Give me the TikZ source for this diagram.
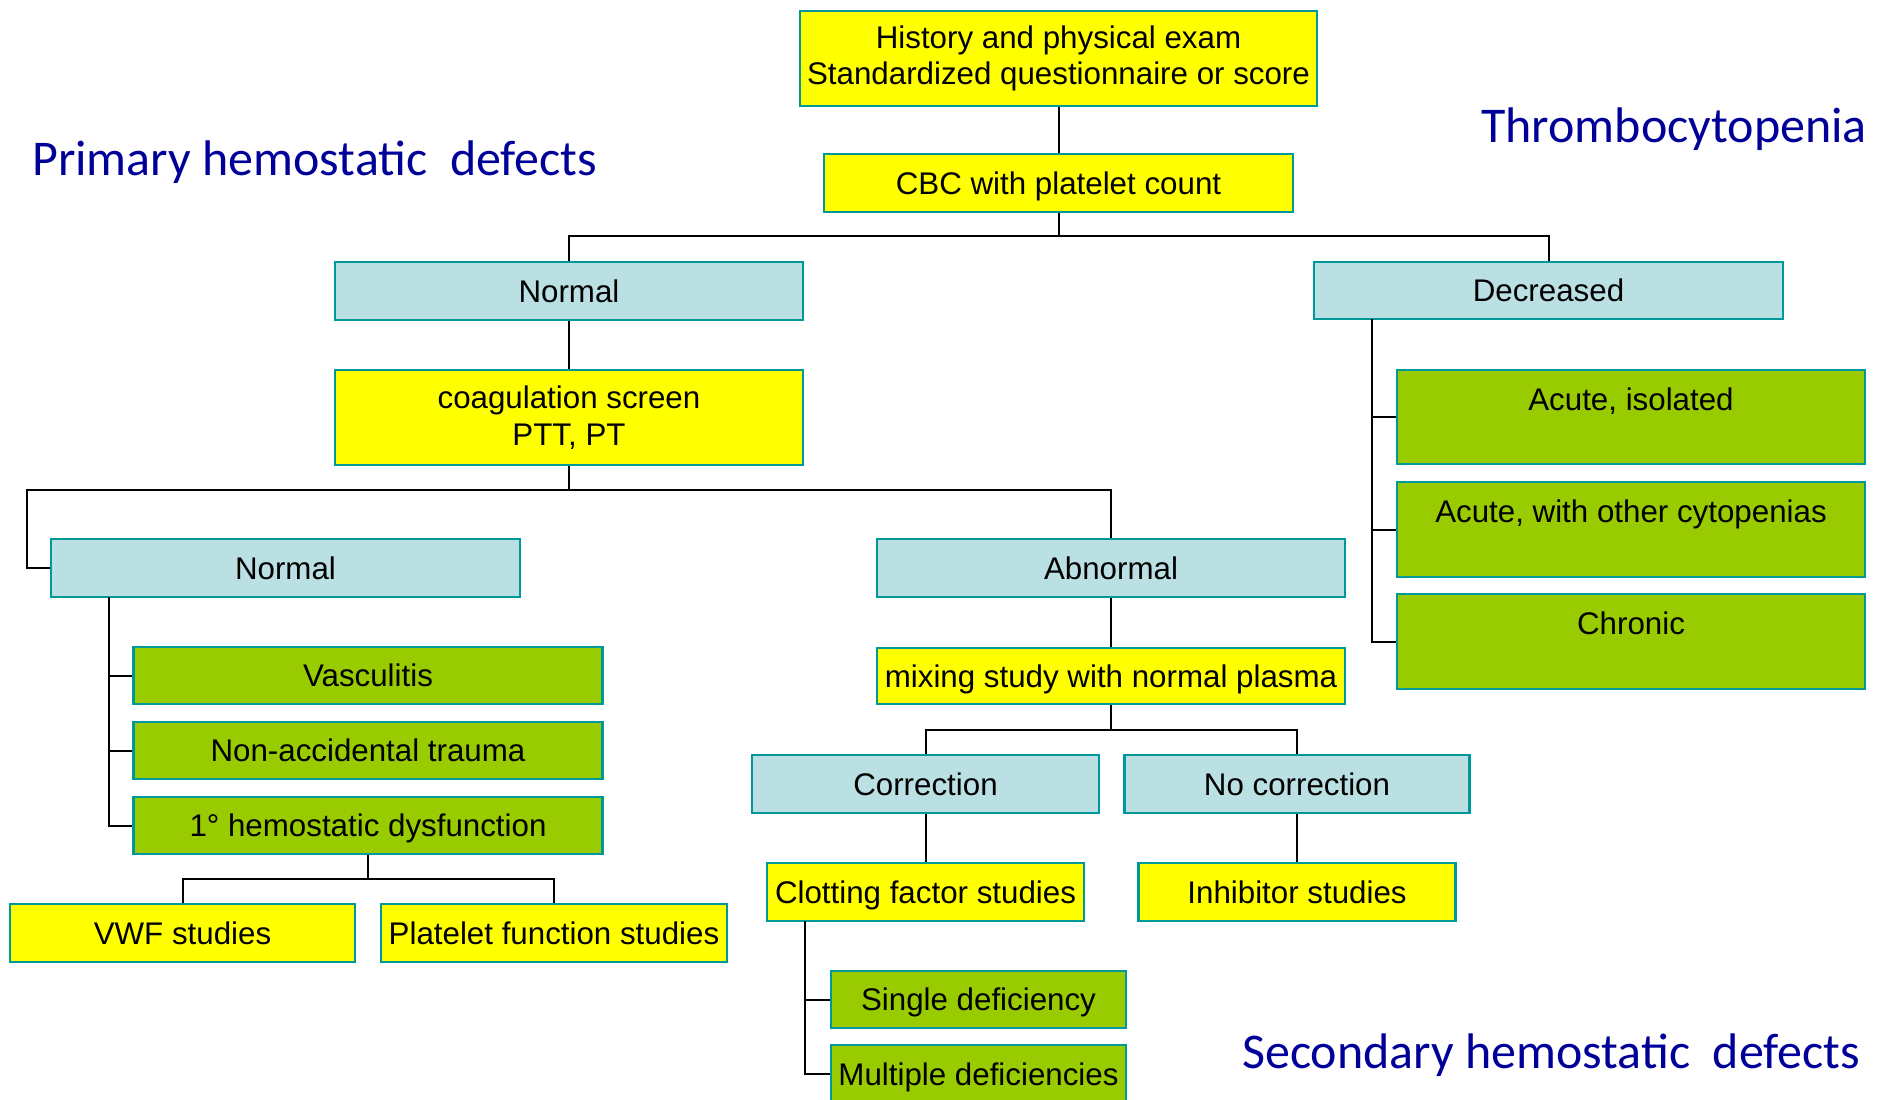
\documentclass[tikz,border=0pt]{standalone}
\usepackage{fontspec}
\setmainfont{Liberation Sans}
\newfontfamily\titlefont{Carlito}
\definecolor{bordc}{RGB}{0,153,153}
\definecolor{yel}{RGB}{255,255,0}
\definecolor{lblue}{RGB}{187,224,227}
\definecolor{grn}{RGB}{153,204,0}
\definecolor{navy}{RGB}{0,0,153}
\newcommand{\boxfnt}{\fontsize{31.3}{36.5}\selectfont}
\begin{document}
\begin{tikzpicture}[x=1pt,y=-1pt,
  box/.style={draw=bordc, line width=2.5pt, inner sep=0pt, align=center,
    font=\boxfnt},
  sl/.style={text height=23pt, text depth=0.5pt},
  ybox/.style={box, fill=yel},
  bbox/.style={box, fill=lblue},
  gbox/.style={box, fill=grn},
  conn/.style={draw=black, line width=2pt},
  ttl/.style={anchor=base west, inner sep=0pt, text=navy, font=\titlefont\fontsize{50}{60}\selectfont}]
\useasboundingbox (0,0) rectangle (1891,1100);

% boxes
\node[ybox, minimum width=517pt, minimum height=95pt] (hist) at (1058.5,58.5) {History and physical exam\\Standardized questionnaire or score};
\node[ybox, sl, minimum width=469pt, minimum height=58pt] (cbc) at (1058.5,183) {CBC with platelet count};
\node[bbox, sl, minimum width=468pt, minimum height=58pt] (norm1) at (569,291) {Normal};
\node[bbox, sl, minimum width=469pt, minimum height=57pt] (dec) at (1548.5,290.5) {Decreased};
\node[ybox, minimum width=468pt, minimum height=95pt] (coag) at (569,417.5) {coagulation screen\\PTT, PT};
\node[bbox, sl, minimum width=469pt, minimum height=58pt] (norm2) at (285.5,568) {Normal};
\node[bbox, sl, minimum width=468pt, minimum height=58pt] (abn) at (1111,568) {Abnormal};
\node[gbox, sl, minimum width=469pt, minimum height=57pt] (vasc) at (368,675.5) {Vasculitis};
\node[gbox, sl, minimum width=469pt, minimum height=57pt] (nat) at (368,750.5) {Non-accidental trauma};
\node[gbox, sl, minimum width=469pt, minimum height=57pt] (hd) at (368,825.5) {1° hemostatic dysfunction};
\node[ybox, sl, minimum width=345pt, minimum height=58pt] (vwf) at (182.5,933) {VWF studies};
\node[ybox, sl, minimum width=346pt, minimum height=58pt] (plt) at (554,933) {Platelet function studies};
\node[ybox, sl, minimum width=468pt, minimum height=56pt] (mix) at (1111,676) {mixing study with normal plasma};
\node[bbox, sl, minimum width=347pt, minimum height=58pt] (corr) at (925.5,784) {Correction};
\node[bbox, sl, minimum width=345pt, minimum height=58pt] (nocorr) at (1297,784) {No correction};
\node[ybox, sl, minimum width=317pt, minimum height=58pt] (clot) at (925.5,892) {Clotting factor studies};
\node[ybox, sl, minimum width=317pt, minimum height=58pt] (inh) at (1297,892) {Inhibitor studies};
\node[gbox, sl, minimum width=295pt, minimum height=57pt] (single) at (978.5,999.5) {Single deficiency};
\node[gbox, sl, minimum width=295pt, minimum height=58pt] (multi) at (978.5,1074) {Multiple deficiencies};
\node[gbox, minimum width=468pt, minimum height=94pt] (ai) at (1631,417) {};
\node[gbox, minimum width=468pt, minimum height=95pt] (ao) at (1631,529.5) {};
\node[gbox, minimum width=468pt, minimum height=95pt] (chr) at (1631,641.5) {};
\node[font=\boxfnt, inner sep=0pt, sl] (ait) at (1631,399) {Acute, isolated};
\node[font=\boxfnt, inner sep=0pt, sl] (aot) at (1631,511) {Acute, with other cytopenias};
\node[font=\boxfnt, inner sep=0pt, sl] (chrt) at (1631,623) {Chronic};

% titles
\node[ttl] (t1) at (32,175) {Primary hemostatic\ \ defects};
\node[ttl] (t2) at (1481,142) {Thrombocytopenia};
\node[ttl] (t3) at (1242,1068) {Secondary hemostatic\ \ defects};

% connector junctions
\coordinate (j1) at (1058.5,236);
\coordinate (j2) at (569,490);
\coordinate (l2) at (27,568);
\coordinate (v2) at (109,597);
\coordinate (j3) at (368,879);
\coordinate (j4) at (1111,730);
\coordinate (v4) at (805,921);
\coordinate (v5) at (1372,319);

% connectors
\draw[conn] (hist.south) -- (cbc.north);
\draw[conn] (cbc.south) -- (j1);
\draw[conn] (j1) -| (norm1.north);
\draw[conn] (j1) -| (dec.north);
\draw[conn] (norm1.south) -- (coag.north);
\draw[conn] (coag.south) -- (j2);
\draw[conn] (j2) -| (abn.north);
\draw[conn] (j2) -| (l2) -- (norm2.west);
\draw[conn] (v2) |- (vasc.west);
\draw[conn] (v2) |- (nat.west);
\draw[conn] (v2) |- (hd.west);
\draw[conn] (hd.south) -- (j3);
\draw[conn] (j3) -| (vwf.north);
\draw[conn] (j3) -| (plt.north);
\draw[conn] (abn.south) -- (mix.north);
\draw[conn] (mix.south) -- (j4);
\draw[conn] (j4) -| (corr.north);
\draw[conn] (j4) -| (nocorr.north);
\draw[conn] (corr.south) -- (clot.north);
\draw[conn] (nocorr.south) -- (inh.north);
\draw[conn] (v4) |- (single.west);
\draw[conn] (v4) |- (multi.west);
\draw[conn] (v5) |- (ai.west);
\draw[conn] (v5) |- (ao.west);
\draw[conn] (v5) |- (chr.west);
\end{tikzpicture}
\end{document}
